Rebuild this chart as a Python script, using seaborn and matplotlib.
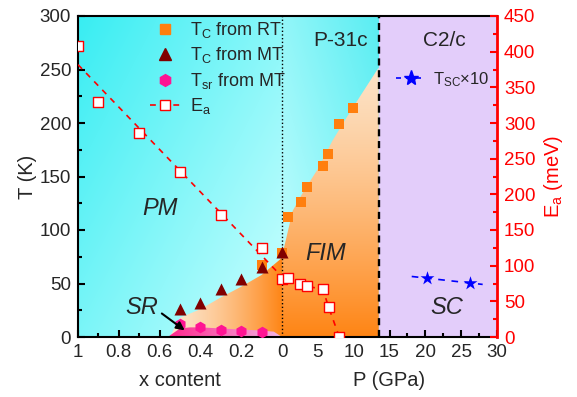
import numpy as np
import pandas as pd
import matplotlib
matplotlib.use("Agg")
import matplotlib.pyplot as plt
import seaborn as sns
from matplotlib.patches import Polygon
from matplotlib.lines import Line2D

# ---------------- data ----------------
# T_C from resistivity (RT)
x_rt = [0.1, 0.0]
Tc_rt_x = [67, 78.5]
P_rt = [0.8, 2.6, 3.5, 5.7, 6.4, 7.9, 9.9]
Tc_rt_P = [112, 126, 140, 160, 171, 199, 214]
# T_C from magnetization (MT)
x_mt = [0.5, 0.4, 0.3, 0.2, 0.1, 0.0]
Tc_mt = [26, 32, 45, 54, 65, 79]
# T_sr from MT
x_sr = [0.5, 0.4, 0.3, 0.2, 0.1]
Tsr = [12, 9, 7, 5.5, 5]
# activation energy E_a (meV)
x_ea = [1.0, 0.9, 0.7, 0.5, 0.3, 0.1, 0.0]
Ea_x = [408, 329, 286, 231, 171, 125, 82]
P_ea = [0.8, 2.5, 3.5, 5.7, 6.5, 8.0]
Ea_P = [83, 74, 71, 67, 42, 0]
# superconducting T_SC x 10
P_sc = [20.2, 26.2]
Tsc10 = [55, 50.5]
# phase boundaries
fim_x = [0.55, 0.5, 0.4, 0.3, 0.2, 0.1, 0.0]
fim_xT = [0, 18, 26, 37, 47, 58, 74]
fim_P = [0.0, 0.3, 1.5, 3.0, 5.0, 7.0, 9.0, 11.0, 13.5]
fim_PT = [74, 84, 118, 136, 157, 183, 205, 226, 252]
sr_x = [0.56, 0.5, 0.45, 0.4, 0.3, 0.2, 0.1, 0.04, 0.0]
sr_T = [0, 8, 9, 9, 8, 7, 6, 5, 0]
P_struct = 13.5
P_max = 30

# axis mapping: x content 1->0 is 0..10, pressure follows
SP = 215 / 20.4 / 30.0
def ux(x):
    return (1 - np.asarray(x, dtype=float)) * 10
def up(p):
    return 10 + np.asarray(p, dtype=float) * SP

sns.set_style("ticks")
plt.rcParams["font.family"] = ["Liberation Sans", "DejaVu Sans"]
plt.rcParams["mathtext.fontset"] = "custom"
plt.rcParams["mathtext.rm"] = "Liberation Sans"
plt.rcParams["mathtext.it"] = "Liberation Sans:italic"
plt.rcParams["mathtext.bf"] = "Liberation Sans:bold"

fig = plt.figure(figsize=(5.77, 3.97), dpi=100)
ax = fig.add_axes([78 / 577, 60 / 397, 419 / 577, 321 / 397])
XMAX = float(up(P_max))
TMAX = 300

def grad_img(ax, extent, func, clip=None, z=0):
    nx, ny = 200, 200
    U, V = np.meshgrid(np.linspace(0, 1, nx), np.linspace(0, 1, ny))
    img = func(U, V)
    im = ax.imshow(img, extent=extent, origin="lower", aspect="auto", zorder=z,
                   interpolation="bilinear")
    if clip is not None:
        im.set_clip_path(clip)
    return im

def mix(c0, c1, w):
    c0 = np.array(c0)[None, None, :]
    c1 = np.array(c1)[None, None, :]
    w = np.clip(w, 0, 1)[..., None]
    return c0 + (c1 - c0) * w

# cyan backgrounds
grad_img(ax, [0, 10, 0, TMAX],
         lambda U, V: mix((0.22, 0.93, 0.95), (0.80, 1.0, 1.0), 0.55 * U + 0.45 * (1 - V)), z=0)
grad_img(ax, [10, float(up(P_struct)), 0, TMAX],
         lambda U, V: mix((0.35, 0.93, 0.95), (0.80, 1.0, 1.0), 0.5 * (1 - U) + 0.5 * (1 - V)), z=0)
# purple region
ax.axvspan(float(up(P_struct)), XMAX, color="#e3cdfa", zorder=0, lw=0)

# FIM region (x part)
vx = list(zip(ux(fim_x), fim_xT)) + [(10, 0)]
poly1 = Polygon(vx, closed=True, fc="none", ec="none", transform=ax.transData)
ax.add_patch(poly1)
x0 = float(ux(fim_x[0]))
grad_img(ax, [x0, 10, 0, 80],
         lambda U, V: mix((0.99, 0.90, 0.80), (1.0, 0.52, 0.08), U ** 1.4), clip=poly1, z=1)
# FIM region (P part)
vp = [(10, 0)] + list(zip(up(fim_P), fim_PT)) + [(float(up(P_struct)), 0)]
poly2 = Polygon(vp, closed=True, fc="none", ec="none", transform=ax.transData)
ax.add_patch(poly2)
grad_img(ax, [10, float(up(P_struct)), 0, 255],
         lambda U, V: mix((0.99, 0.89, 0.78), (1.0, 0.52, 0.08), (1 - V) ** 1.3), clip=poly2, z=1)
# SR region
vs = list(zip(ux(sr_x), sr_T))
poly3 = Polygon(vs, closed=True, fc="none", ec="none", transform=ax.transData)
ax.add_patch(poly3)
grad_img(ax, [float(ux(sr_x[0])), 10, 0, 12],
         lambda U, V: mix((1.0, 0.15, 0.55), (0.95, 0.72, 0.90), U), clip=poly3, z=2)

# boundary lines
ax.axvline(float(up(P_struct)), color="black", lw=1.7, ls=(0, (3, 2)), zorder=3)
ax.axvline(10, color="black", lw=1.0, ls=":", zorder=3)

# markers (T axis)
sns.scatterplot(x=ux(x_rt), y=Tc_rt_x, marker="s", color="#ff7f0e", s=45, linewidth=0, ax=ax, zorder=4)
sns.scatterplot(x=up(P_rt), y=Tc_rt_P, marker="s", color="#ff7f0e", s=45, linewidth=0, ax=ax, zorder=4)
sns.scatterplot(x=ux(x_mt), y=Tc_mt, marker="^", color="#800000", s=75, linewidth=0, ax=ax, zorder=5)
sns.scatterplot(x=ux(x_sr), y=Tsr, marker="h", color="#ff1493", s=70, linewidth=0, ax=ax, zorder=5)

# T_SC x10 with linear fit
fit_sc = np.polyfit(P_sc, Tsc10, 1)
Pline = np.array([18.1, 28.0])
sns.lineplot(x=up(Pline), y=np.polyval(fit_sc, Pline), color="blue", lw=1.2,
             linestyle=(0, (4, 4)), ax=ax, zorder=5, sort=False)
sns.scatterplot(x=up(P_sc), y=Tsc10, marker="*", color="blue", s=110, linewidth=0, ax=ax, zorder=6)

ax.set_xlim(0, XMAX)
ax.set_ylim(0, TMAX)

# E_a on twin axis
ax2 = ax.twinx()
fit_ea = np.polyfit(x_ea, Ea_x, 1)
xl = np.array([1.0, -0.02])
sns.lineplot(x=ux(xl), y=np.polyval(fit_ea, xl), color="red", lw=1.2,
             linestyle=(0, (3.5, 3.5)), ax=ax2, zorder=3, sort=False)
sns.lineplot(x=up(P_ea), y=Ea_P, color="red", lw=1.2,
             linestyle=(0, (3.5, 3.5)), ax=ax2, zorder=3, sort=False)
sns.scatterplot(x=ux(x_ea), y=Ea_x, marker="s", color="white", edgecolor="red",
                s=48, linewidth=1.0, ax=ax2, zorder=4)
sns.scatterplot(x=up(P_ea), y=Ea_P, marker="s", color="white", edgecolor="red",
                s=48, linewidth=1.0, ax=ax2, zorder=4)
ax2.set_ylim(0, 450)
ax2.set_xlim(0, XMAX)

# ticks
xt_major = list(ux([1, 0.8, 0.6, 0.4, 0.2, 0])) + list(up([5, 10, 15, 20, 25, 30]))
xt_labels = ["1", "0.8", "0.6", "0.4", "0.2", "0", "5", "10", "15", "20", "25", "30"]
xt_minor = list(ux([0.9, 0.7, 0.5, 0.3, 0.1])) + list(up([2.5, 7.5, 12.5, 17.5, 22.5, 27.5]))
ax.set_xticks(xt_major)
ax.set_xticklabels(xt_labels)
ax.set_xticks(xt_minor, minor=True)
ax.set_yticks(np.arange(0, 301, 50))
ax.set_yticks(np.arange(25, 300, 50), minor=True)
ax.tick_params(axis="both", which="both", direction="in", width=1.5, top=False, right=False,
               labelsize=13.5, pad=5, color="black")
ax.tick_params(which="major", length=5)
ax.tick_params(which="minor", length=3)

ax2.set_yticks(np.arange(0, 451, 50))
ax2.set_yticks(np.arange(25, 450, 50), minor=True)
ax2.tick_params(axis="y", which="both", direction="in", width=1.5, colors="red",
                labelsize=13.5, pad=5)
ax2.tick_params(axis="y", which="major", length=5)
ax2.tick_params(axis="y", which="minor", length=3)

for s in ["left", "bottom", "top"]:
    ax.spines[s].set_linewidth(1.5)
    ax.spines[s].set_color("black")
    ax2.spines[s].set_visible(False)
ax.spines["right"].set_visible(False)
ax2.spines["right"].set_color("red")
ax2.spines["right"].set_linewidth(2)

ax.set_ylabel("T (K)", fontsize=14.5, labelpad=2)
ax2.set_ylabel(r"E$_\mathregular{a}$ (meV)", fontsize=14.5, color="red", labelpad=5)
ax.set_xlabel("")
ax.text(float(ux(0.5)), -0.105, "x content", transform=ax.get_xaxis_transform(),
        ha="center", va="top", fontsize=14.5)
ax.text(float(up(15)), -0.105, "P (GPa)", transform=ax.get_xaxis_transform(),
        ha="center", va="top", fontsize=14.5)

# region labels
ax.text(float(ux(0.6)), 120, "PM", style="italic", fontsize=17, ha="center", va="center", zorder=7)
ax.text(float(up(6.1)), 78, "FIM", style="italic", fontsize=17, ha="center", va="center", zorder=7)
ax.text(float(up(23)), 28, "SC", style="italic", fontsize=17, ha="center", va="center", zorder=7)
ax.text(float(ux(0.69)), 28, "SR", style="italic", fontsize=17, ha="center", va="center", zorder=7)
ax.text(float(up(8.1)), 277, "P-31c", fontsize=15, ha="center", va="center", zorder=7)
ax.text(float(up(22.6)), 277, "C2/c", fontsize=15, ha="center", va="center", zorder=7)
ax.annotate("", xy=(float(ux(0.466)), 4.7), xytext=(float(ux(0.6)), 23.5),
            arrowprops=dict(arrowstyle="-|>", color="black", lw=1.5, mutation_scale=12),
            zorder=8)

# legends
h1 = [Line2D([], [], ls="none", marker="s", color="#ff7f0e", ms=6.5),
      Line2D([], [], ls="none", marker="^", color="#800000", ms=9),
      Line2D([], [], ls="none", marker="h", color="#ff1493", ms=8.5),
      Line2D([], [], ls=(0, (3.5, 3.5)), lw=1.2, color="red", marker="s", mfc="white",
             mec="red", ms=7)]
l1 = [r"T$_\mathregular{C}$ from RT", r"T$_\mathregular{C}$ from MT",
      r"T$_\mathregular{sr}$ from MT", r"E$_\mathregular{a}$"]
leg1 = ax2.legend(h1, l1, loc="upper left", bbox_to_anchor=(141 / 577, 1 - 11 / 397),
                  bbox_transform=fig.transFigure, frameon=False, borderpad=0,
                  handlelength=1.7, handletextpad=0.5, labelspacing=0.3, fontsize=13)
leg1.set_zorder(10)
ax2.add_artist(leg1)
h2 = [Line2D([], [], ls=(0, (3, 3)), lw=1.2, color="blue", marker="*", ms=11)]
leg2 = ax2.legend(h2, [r"T$_\mathregular{SC}$×10"], loc="upper left",
                  bbox_to_anchor=(388 / 577, 1 - 62 / 397), bbox_transform=fig.transFigure,
                  frameon=False, borderpad=0, handlelength=1.7, handletextpad=0.5, fontsize=12)
leg2.set_zorder(10)

fig.savefig("out.png", dpi=100)
